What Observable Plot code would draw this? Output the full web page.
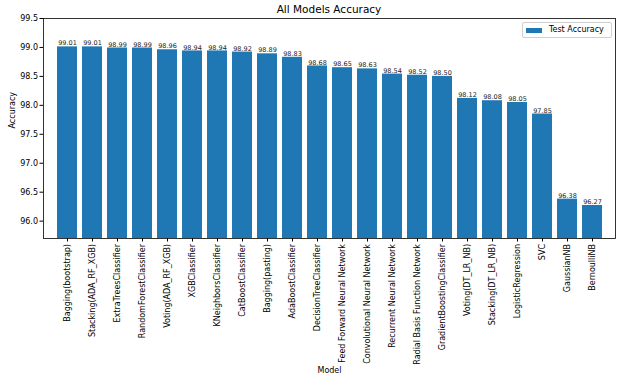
<!DOCTYPE html>
<html>
<head>
<meta charset="utf-8">
<script src="https://cdn.jsdelivr.net/npm/d3@7"></script>
<script src="https://cdn.jsdelivr.net/npm/@observablehq/plot@0.6"></script>
<style>
  html, body { margin: 0; padding: 0; background: #fff; }
  #wrap { position: relative; width: 621px; height: 380px; font-family: "DejaVu Sans", sans-serif; }
  #title { position: absolute; left: 43px; width: 572px; top: 3px; text-align: center; font-size: 10.5px; color: #000; }
  #legend { position: absolute; left: 522px; top: 22px; width: 88px; height: 14px; border: 1px solid #d0d0d0; border-radius: 2px; background: #fff; font-size: 8px; color: #000; }
  #legend .sw { position: absolute; left: 3px; top: 4.5px; width: 16px; height: 5px; background: #1f77b4; }
  #legend .lb { position: absolute; left: 26px; top: 1.5px; white-space: nowrap; }
</style>
</head>
<body>
<div id="wrap">
  <div id="chart"></div>
  <div id="title">All Models Accuracy</div>
  <div id="legend"><div class="sw"></div><div class="lb">Test Accuracy</div></div>
</div>
<script>
const models = [
  "Bagging(bootstrap)", "Stacking(ADA_RF_XGB)", "ExtraTreesClassifier", "RandomForestClassifier",
  "Voting(ADA_RF_XGB)", "XGBClassifier", "KNeighborsClassifier", "CatBoostClassifier",
  "Bagging(pasting)", "AdaBoostClassifier", "DecisionTreeClassifier", "Feed Forward Neural Network",
  "Convolutional Neural Network", "Recurrent Neural Network", "Radial Basis Function Network",
  "GradientBoostingClassifier", "Voting(DT_LR_NB)", "Stacking(DT_LR_NB)", "LogisticRegression",
  "SVC", "GaussianNB", "BernoulliNB"
];
const accuracy = [99.01, 99.01, 98.99, 98.99, 98.96, 98.94, 98.94, 98.92, 98.89, 98.83, 98.68,
  98.65, 98.63, 98.54, 98.52, 98.50, 98.12, 98.08, 98.05, 97.85, 96.38, 96.27];
const yTicks = [96.0, 96.5, 97.0, 97.5, 98.0, 98.5, 99.0, 99.5];
const yDomain = [95.7, 99.5];

const data = models.map((m, i) => ({model: m, acc: accuracy[i]}));

const chart = Plot.plot({
  width: 621,
  height: 380,
  marginLeft: 43,
  marginRight: 6,
  marginTop: 18,
  marginBottom: 142,
  style: {fontFamily: "DejaVu Sans, sans-serif", fontSize: "8px", color: "#000", background: "#fff"},
  x: {domain: models, paddingInner: 0.2, paddingOuter: 0.27, label: null},
  y: {domain: yDomain, label: null},
  marks: [
    Plot.barY(data, {x: "model", y: "acc", fill: "#1f77b4", clip: true}),
    Plot.text(data, {x: "model", y: "acc", text: d => d.acc.toFixed(2), dy: -3.5, fontSize: 6.5, fill: "#222"}),
    Plot.frame({stroke: "#000", strokeWidth: 0.8}),
    Plot.axisY({ticks: yTicks, tickFormat: d => d.toFixed(1), tickSize: 3.5, tickPadding: 2, fontSize: 8, label: null}),
    Plot.axisX({tickRotate: -90, tickSize: 3.5, tickPadding: 2, fontSize: 8, label: null}),
    Plot.text(["Accuracy"], {frameAnchor: "left", rotate: -90, dx: -31, fontSize: 8}),
    Plot.text(["Model"], {frameAnchor: "bottom", dy: 134, fontSize: 8})
  ]
});
document.getElementById("chart").appendChild(chart);
</script>
</body>
</html>
